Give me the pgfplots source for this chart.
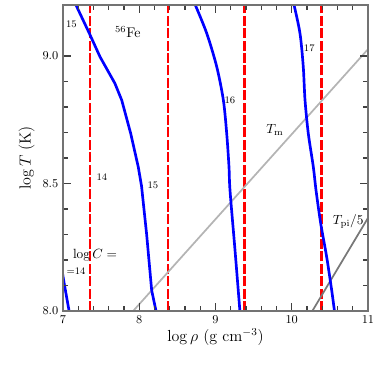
\documentclass[border=0pt]{standalone}
\usepackage{pgfplots}
\pgfplotsset{compat=1.18}
\begin{document}
\begin{tikzpicture}
\begin{axis}[
  scale only axis,
  width=228.75pt, height=229.5pt,
  xmin=7, xmax=11, ymin=8, ymax=9.2,
  xtick={7,8,9,10,11}, ytick={8,8.5,9},
  minor x tick num=4, minor y tick num=4,
  yticklabel style={/pgf/number format/fixed,/pgf/number format/fixed zerofill,/pgf/number format/precision=1},
  tick align=inside,
  xtick pos=both, ytick pos=both,
  major tick length=6pt, minor tick length=3.5pt,
  tick style={draw=black!75, line width=0.8pt},
  axis line style={gray!90!black, line width=0.8pt},
  axis on top,
  ticklabel style={font=\fontsize{9.5}{10}\selectfont},
  xlabel={$\log\rho\ (\mathrm{g\ cm^{-3}})$},
  ylabel={$\log T\ (\mathrm{K})$},
  label style={font=\fontsize{11.5}{13}\selectfont},
  xlabel style={yshift=3pt},
  ylabel style={yshift=-1pt},
]
% red dashed
\addplot[red, line width=1.6pt, dash pattern=on 7.5pt off 1.8pt] coordinates {(7.355,8) (7.355,9.2)};
\addplot[red, line width=1.6pt, dash pattern=on 7.5pt off 1.8pt] coordinates {(8.375,8) (8.375,9.2)};
\addplot[red, line width=1.6pt, dash pattern=on 7.5pt off 1.8pt] coordinates {(9.38,8) (9.38,9.2)};
\addplot[red, line width=1.6pt, dash pattern=on 7.5pt off 1.8pt] coordinates {(10.39,8) (10.39,9.2)};
% gray lines
\addplot[color={rgb,255:red,180;green,180;blue,180}, line width=1.3pt] coordinates {(7.92,8.0) (11,9.0267)};
\addplot[color={rgb,255:red,120;green,120;blue,120}, line width=1.3pt] coordinates {(10.27,8.0) (11,8.365)};
% blue curves
\addplot[blue, line width=2pt, smooth] coordinates {(6.98,8.19) (7.0,8.136) (7.08,8.0)};
\addplot[blue, line width=2pt] coordinates {(7.17,9.2) (7.345,9.089) (7.485,8.997) (7.68,8.893) (7.77,8.827) (7.888,8.696) (7.987,8.565) (8.03,8.49) (8.097,8.3) (8.163,8.081) (8.22,8.0)};
\addplot[blue, line width=2pt, smooth] coordinates {(8.735,9.2) (8.885,9.089) (9.016,8.958) (9.103,8.827) (9.147,8.696) (9.177,8.565) (9.19,8.474) (9.256,8.238) (9.32,8.0)};
\addplot[blue, line width=2pt, smooth] coordinates {(10.03,9.2) (10.108,9.089) (10.151,8.958) (10.174,8.827) (10.217,8.696) (10.283,8.565) (10.318,8.474) (10.38,8.343) (10.458,8.212) (10.524,8.081) (10.56,8.0)};
% labels
\node[font=\fontsize{7.5}{8}\selectfont] at (axis cs:7.11,9.124) {15};
\node[font=\fontsize{10.5}{12}\selectfont] at (axis cs:7.85,9.094) {$^{56}$Fe};
\node[font=\fontsize{7.5}{8}\selectfont] at (axis cs:7.51,8.526) {14};
\node[font=\fontsize{7.5}{8}\selectfont] at (axis cs:8.18,8.494) {15};
\node[font=\fontsize{7.5}{8}\selectfont] at (axis cs:9.19,8.827) {16};
\node[font=\fontsize{7.5}{8}\selectfont] at (axis cs:10.23,9.03) {17};
\node[font=\fontsize{10}{12}\selectfont] at (axis cs:9.78,8.71) {$T_{\mathrm{m}}$};
\node[font=\fontsize{10}{12}\selectfont] at (axis cs:10.74,8.35) {$T_{\mathrm{pi}}/5$};
\node[font=\fontsize{10}{12}\selectfont] at (axis cs:7.42,8.219) {$\log C =$};
\node[font=\fontsize{7.5}{8}\selectfont] at (axis cs:7.17,8.156) {=14};
\end{axis}
\pgfresetboundingbox
\path ([shift={(-47.25pt,-47.25pt)}]current axis.south west) rectangle ([shift={(4.5pt,3.75pt)}]current axis.north east);
\end{tikzpicture}
\end{document}
